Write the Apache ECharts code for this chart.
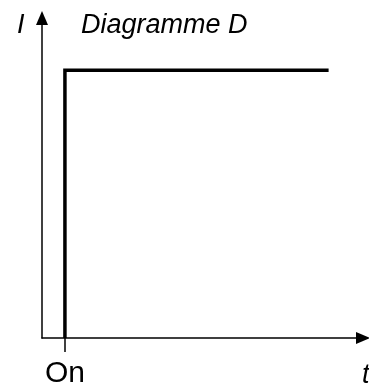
<!DOCTYPE html>
<html><head><meta charset="utf-8">
<script src="https://cdn.jsdelivr.net/npm/echarts@6/dist/echarts.min.js"></script>
<style>html,body{margin:0;padding:0;background:#fff}#c{width:369px;height:390px}</style>
</head><body><div id="c"></div>
<script>
const timeValues = [0, 0, 1.15];
const currentValues = [0, 1, 1];
const tickValues = [0];
const tickLabels = ['On'];
const titleText = 'Diagramme D';
const yName = 'I';
const xName = 't';

const chart = echarts.init(document.getElementById('c'));
const font = 'Liberation Sans, Arial, sans-serif';
chart.setOption({
  animation: false,
  title: [
    {text: titleText, left: 76, top: 7, textStyle: {fontFamily: font, fontStyle: 'italic', fontWeight: 'normal', fontSize: 27, color: '#000'}},
    {text: yName, left: 12, top: 7, textStyle: {fontFamily: font, fontStyle: 'italic', fontWeight: 'normal', fontSize: 27, color: '#000'}},
    {text: xName, left: 357, top: 357, textStyle: {fontFamily: font, fontStyle: 'italic', fontWeight: 'normal', fontSize: 27, color: '#000'}}
  ],
  grid: {left: 42, top: 18, width: 321, height: 320, containLabel: false},
  xAxis: {
    type: 'value', min: -0.1, max: 1.3,
    splitLine: {show: false},
    axisLine: {show: true, onZero: false, symbol: ['none', 'triangle'], symbolSize: [12, 14], lineStyle: {color: '#000', width: 1.5}},
    axisTick: {show: true, customValues: tickValues, length: 14, lineStyle: {color: '#000', width: 1.5}},
    axisLabel: {show: true, customValues: tickValues, formatter: (v) => tickLabels[tickValues.indexOf(v)] || '', margin: 21, fontFamily: font, fontSize: 30, color: '#000'}
  },
  yAxis: {
    type: 'value', min: 0, max: 1.195,
    splitLine: {show: false},
    axisLine: {show: true, onZero: false, symbol: ['none', 'triangle'], symbolSize: [12, 14], lineStyle: {color: '#000', width: 1.5}},
    axisTick: {show: false},
    axisLabel: {show: false}
  },
  series: [{
    type: 'line',
    data: timeValues.map((t, i) => [t, currentValues[i]]),
    symbol: 'none',
    lineStyle: {color: '#000', width: 3.5, join: 'miter', cap: 'butt'}
  }]
});
</script></body></html>
